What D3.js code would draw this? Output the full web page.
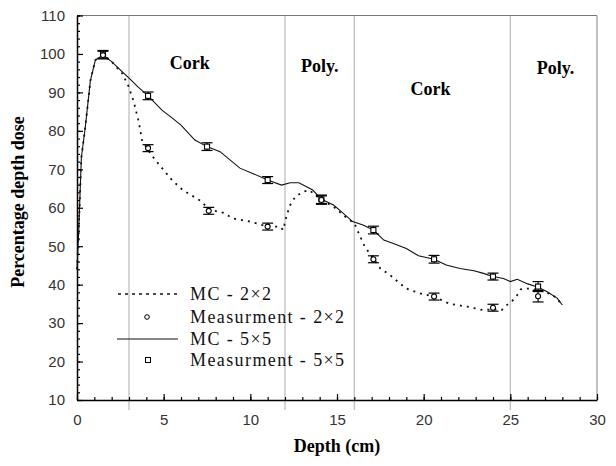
<!DOCTYPE html>
<html><head><meta charset="utf-8">
<script src="https://cdn.jsdelivr.net/npm/d3@7"></script>
<style>body{margin:0;background:#fff} .sf{font-family:"Liberation Serif","DejaVu Serif",serif}</style></head>
<body>
<svg id="c" width="616" height="466"></svg>
<script>
// ---- data ----
const mc5Depth = [0, 0.1, 0.25, 0.48, 0.77, 1.06, 1.5, 2.0, 2.6, 3.08, 3.5, 4.1, 4.9, 5.5, 6.0, 6.8, 7.5, 8.25, 9.4, 10.2, 11.0, 11.8, 12.3, 12.8, 13.6, 14.1, 14.8, 15.2, 15.9, 16.5, 17.1, 17.7, 18.25, 19.0, 19.7, 20.6, 21.3, 22.1, 22.9, 23.4, 24.0, 24.6, 25.0, 25.4, 26.0, 26.6, 27.1, 27.7, 28.0];
const mc5Dose  = [44, 54, 73, 81, 93, 98.4, 99.7, 98.0, 95.4, 93.4, 91.5, 89.1, 85.4, 83.3, 81.5, 77.6, 75.9, 74.6, 70.3, 68.8, 67.2, 65.9, 66.5, 66.5, 64.6, 62.2, 60.7, 59.2, 56.4, 55.5, 54.2, 51.6, 50.7, 49.4, 47.5, 46.6, 45.1, 44.2, 43.6, 43.0, 42.1, 41.6, 40.8, 41.4, 40.2, 39.3, 38.2, 36.5, 34.7];
const mc2Depth = [0, 0.1, 0.25, 0.48, 0.77, 1.06, 1.5, 2.0, 2.6, 2.98, 3.27, 3.56, 3.75, 4.1, 4.52, 5.48, 6.1, 6.8, 7.2, 7.6, 8.45, 9.0, 10.0, 10.46, 11.0, 11.7, 11.9, 12.1, 12.3, 12.6, 13.06, 13.4, 14.1, 14.8, 15.6, 16.0, 16.3, 16.6, 17.1, 17.5, 18.06, 18.5, 19.0, 19.8, 20.6, 21.5, 22.5, 23.4, 24.0, 24.5, 24.9, 25.1, 25.4, 25.6, 26.1, 26.6, 27.1, 27.7, 28.0];
const mc2Dose  = [44, 54, 73, 81, 93, 98.4, 99.7, 98.0, 95.0, 91.5, 87.6, 82.4, 77.6, 75.0, 72.4, 67.2, 64.6, 62.7, 61.6, 59.5, 58.7, 57.2, 56.4, 55.8, 55.1, 55.1, 54.2, 58.1, 60.7, 62.9, 64.2, 64.6, 62.0, 60.3, 57.2, 56.0, 52.9, 49.9, 46.8, 44.2, 42.5, 40.8, 39.0, 37.7, 36.9, 35.0, 34.3, 33.4, 33.6, 33.4, 35.1, 35.7, 37.3, 38.8, 39.0, 38.6, 38.0, 36.5, 34.4];
const meas5Depth = [1.5, 4.1, 7.5, 11.0, 14.1, 17.1, 20.6, 24.0, 26.6];
const meas5Dose  = [99.9, 89.1, 75.9, 67.2, 62.2, 54.2, 46.6, 42.1, 39.5];
const meas5Err   = [1.0, 1.0, 1.0, 0.9, 1.1, 1.0, 1.0, 0.9, 1.3];
const meas2Depth = [1.5, 4.1, 7.6, 11.0, 14.1, 17.1, 20.6, 24.0, 26.6];
const meas2Dose  = [99.7, 75.5, 59.2, 55.1, 62.0, 46.6, 36.9, 34.0, 37.0];
const meas2Err   = [1.0, 0.9, 0.9, 0.9, 1.1, 0.9, 0.9, 0.9, 1.5];
const boundaries = [3, 12, 16, 25];
const regionNames = ["Cork", "Poly.", "Cork", "Poly."];
const regionX = [6.5, 14.0, 20.4, 27.6];
const regionY = [97.6, 96.8, 90.8, 96.4];
const xTicks = [0, 5, 10, 15, 20, 25, 30];
const yTicks = [10, 20, 30, 40, 50, 60, 70, 80, 90, 100, 110];
const legendLabels = ["MC - 2\u00d72", "Measurment - 2\u00d72", "MC - 5\u00d75", "Measurment - 5\u00d75"];

// ---- chart ----
const svg = d3.select("#c");
const x = d3.scaleLinear().domain([0, 30]).range([77, 597]);
const y = d3.scaleLinear().domain([10, 110]).range([400, 15.5]);
const sans = "Liberation Sans, Arial, sans-serif";

// frame top/right
svg.append("line").attr("x1", x(0)).attr("x2", x(30)).attr("y1", y(110)).attr("y2", y(110))
  .attr("stroke", "#777").attr("stroke-width", 1);
svg.append("line").attr("x1", x(30)).attr("x2", x(30)).attr("y1", y(110)).attr("y2", y(10))
  .attr("stroke", "#999").attr("stroke-width", 1.2);

// boundaries
svg.selectAll("line.bnd").data(boundaries).join("line").attr("class", "bnd")
  .attr("x1", d => x(d)).attr("x2", d => x(d)).attr("y1", y(110)).attr("y2", y(10) + 10)
  .attr("stroke", "#888").attr("stroke-width", 1.4).attr("stroke-dasharray", "1,1");

// axes
const gx = svg.append("g").attr("transform", `translate(0,${y(10)})`)
  .call(d3.axisBottom(x).tickValues(xTicks).tickSizeInner(-6).tickSizeOuter(0).tickPadding(14));
const gxm = svg.append("g").attr("transform", `translate(0,${y(10)})`)
  .call(d3.axisBottom(x).tickValues(d3.range(0, 31, 1)).tickSize(-3).tickFormat(""));
gxm.select(".domain").remove();
const gy = svg.append("g").attr("transform", `translate(${x(0)},0)`)
  .call(d3.axisLeft(y).tickValues(yTicks).tickSizeInner(-6).tickSizeOuter(0).tickPadding(12));
const gym = svg.append("g").attr("transform", `translate(${x(0)},0)`)
  .call(d3.axisLeft(y).tickValues(d3.range(10, 111, 2)).tickSize(-3).tickFormat(""));
gym.select(".domain").remove();
[gx, gy].forEach(g => {
  g.select(".domain").attr("stroke", "#000").attr("stroke-width", 1.5);
  g.selectAll("text").attr("font-family", sans).attr("font-size", 15).attr("fill", "#333");
});
[gx, gy, gxm, gym].forEach(g => g.selectAll(".tick line").attr("stroke", "#000").attr("stroke-width", 1.2));

// axis titles
svg.append("text").attr("class", "sf").attr("x", (x(0) + x(30)) / 2).attr("y", 452).attr("text-anchor", "middle")
  .attr("font-weight", "bold").attr("font-size", 18).text("Depth (cm)");
svg.append("text").attr("class", "sf").attr("transform", `translate(24,${y(61.5)}) rotate(-90)`).attr("text-anchor", "middle")
  .attr("font-weight", "bold").attr("font-size", 18).text("Percentage depth dose");

// region labels
svg.selectAll("text.reg").data(regionNames).join("text").attr("class", "reg sf")
  .attr("x", (d, i) => x(regionX[i])).attr("y", (d, i) => y(regionY[i]) + 6).attr("text-anchor", "middle")
  .attr("font-weight", "bold").attr("font-size", 18).text(d => d);

// lines
const line = d3.line().x(d => x(d[0])).y(d => y(d[1]));
svg.append("path").datum(mc5Depth.map((d, i) => [d, mc5Dose[i]])).attr("d", line)
  .attr("fill", "none").attr("stroke", "#111").attr("stroke-width", 1.1);
svg.append("path").datum(mc2Depth.map((d, i) => [d, mc2Dose[i]])).attr("d", line)
  .attr("fill", "none").attr("stroke", "#111").attr("stroke-width", 1.8).attr("stroke-dasharray", "2,5");

// error bars + markers
function errBars(depth, dose, err) {
  const g = svg.append("g").attr("stroke", "#000").attr("stroke-width", 1.2).attr("fill", "none");
  depth.forEach((d, i) => {
    const cx = x(d), y0 = y(dose[i] - err[i]), y1 = y(dose[i] + err[i]);
    g.append("line").attr("x1", cx).attr("x2", cx).attr("y1", y0).attr("y2", y1);
    g.append("line").attr("x1", cx - 5.5).attr("x2", cx + 5.5).attr("y1", y0).attr("y2", y0);
    g.append("line").attr("x1", cx - 5.5).attr("x2", cx + 5.5).attr("y1", y1).attr("y2", y1);
  });
}
errBars(meas5Depth, meas5Dose, meas5Err);
errBars(meas2Depth, meas2Dose, meas2Err);
svg.selectAll("rect.m5").data(meas5Depth).join("rect").attr("class", "m5")
  .attr("x", (d) => x(d) - 2.5).attr("y", (d, i) => y(meas5Dose[i]) - 2.5).attr("width", 5).attr("height", 5)
  .attr("fill", "#fff").attr("stroke", "#000").attr("stroke-width", 1.1);
svg.selectAll("circle.m2").data(meas2Depth).join("circle").attr("class", "m2")
  .attr("cx", d => x(d)).attr("cy", (d, i) => y(meas2Dose[i])).attr("r", 2.5)
  .attr("fill", "#fff").attr("stroke", "#000").attr("stroke-width", 1.1);

// legend
const lg = svg.append("g");
const rows = [294, 317, 339, 360];
lg.append("line").attr("x1", 118).attr("x2", 178).attr("y1", rows[0]).attr("y2", rows[0])
  .attr("stroke", "#111").attr("stroke-width", 1.5).attr("stroke-dasharray", "3,4");
lg.append("circle").attr("cx", 147).attr("cy", rows[1]).attr("r", 2.3).attr("fill", "#fff").attr("stroke", "#000");
lg.append("line").attr("x1", 117).attr("x2", 178).attr("y1", rows[2]).attr("y2", rows[2])
  .attr("stroke", "#111").attr("stroke-width", 1.1);
lg.append("rect").attr("x", 145.5).attr("y", rows[3] - 2.5).attr("width", 5).attr("height", 5).attr("fill", "#fff").attr("stroke", "#000");
lg.selectAll("text").data(legendLabels).join("text").attr("class", "sf")
  .attr("x", 190).attr("y", (d, i) => rows[i] + 6)
  .attr("font-size", 18).attr("letter-spacing", 1.4).attr("fill", "#111").text(d => d);
</script>
</body></html>
